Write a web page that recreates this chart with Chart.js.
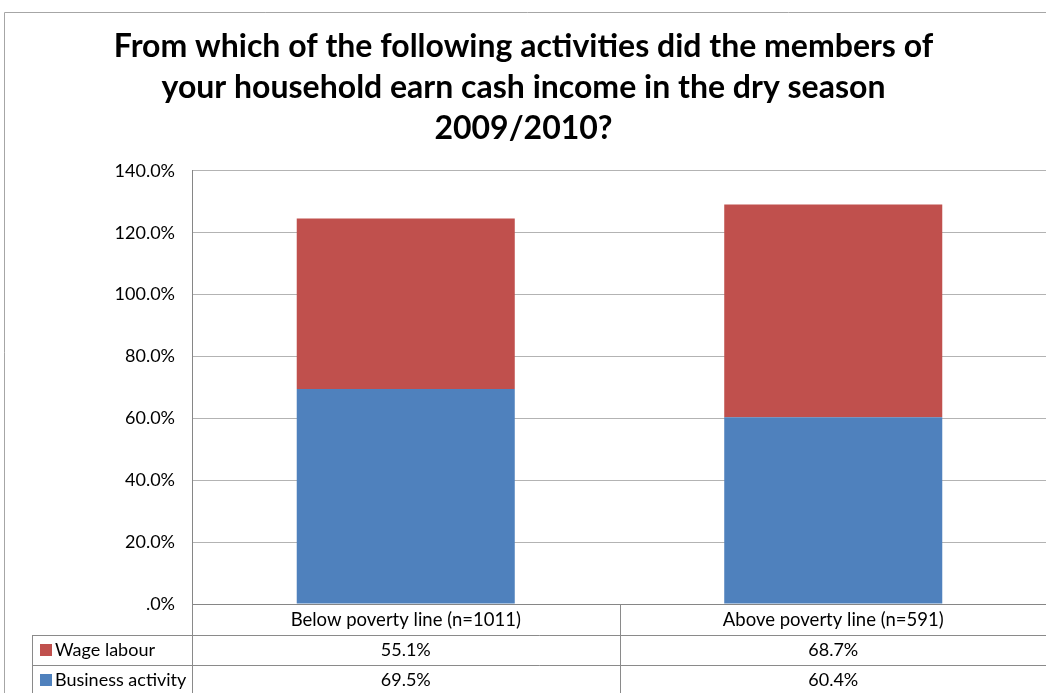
<!DOCTYPE html>
<html>
<head>
<meta charset="utf-8">
<script src="https://cdn.jsdelivr.net/npm/chart.js@4/dist/chart.umd.min.js"></script>
<style>
  html, body { margin: 0; padding: 0; background: #fff; overflow: hidden; }
  #wrap { width: 1050px; height: 693px; }
</style>
</head>
<body>
<div id="wrap"><canvas id="myChart" width="1050" height="693"></canvas></div>
<script>
// chart values
const categories = ['Below poverty line (n=1011)', 'Above poverty line (n=591)'];
const businessActivity = [69.5, 60.4];
const wageLabour = [55.1, 68.7];
const yTicks = [0, 20, 40, 60, 80, 100, 120, 140];
const titleLines = [
  'From which of the following activities did the members of',
  'your household earn cash income in the dry season',
  '2009/2010?'
];

const FONT = 'Lato, "Open Sans", sans-serif';
const pct = v => (v === 0 ? '.0%' : v.toFixed(1) + '%');

// thin frame round the whole chart
const chartFrame = {
  id: 'chartFrame',
  beforeDraw(chart) {
    const ctx = chart.ctx;
    ctx.save();
    ctx.strokeStyle = '#a6a6a6';
    ctx.lineWidth = 1;
    ctx.beginPath();
    ctx.moveTo(4.5, chart.height);
    ctx.lineTo(4.5, 12.5);
    ctx.lineTo(chart.width, 12.5);
    ctx.stroke();
    ctx.restore();
  }
};

// data table under the x axis (one row per series, with a colour key)
const dataTable = {
  id: 'dataTable',
  afterDraw(chart) {
    const { ctx, chartArea: a, scales: { x } } = chart;
    const headTop = a.bottom;
    const headH = 31;
    const rowH = 30;
    const keyLeft = 32.5;
    const half = (a.right - a.left) / categories.length / 2;
    // wage labour row sits on top, as in the stack
    const rows = chart.data.datasets.slice().reverse();

    ctx.save();
    ctx.strokeStyle = '#8a8a8a';
    ctx.lineWidth = 1;
    ctx.beginPath();
    // left edge of plot runs down through the table
    ctx.moveTo(Math.round(a.left) + 0.5, a.bottom);
    ctx.lineTo(Math.round(a.left) + 0.5, chart.height);
    // dividers between categories
    categories.forEach((c, i) => {
      const xr = Math.round(x.getPixelForValue(i) + half) + 0.5;
      ctx.moveTo(xr, headTop);
      ctx.lineTo(xr, chart.height);
    });
    // row lines
    rows.forEach((ds, r) => {
      const y = Math.round(headTop + headH + r * rowH) + 0.5;
      ctx.moveTo(keyLeft, y);
      ctx.lineTo(a.right, y);
    });
    ctx.moveTo(keyLeft, headTop + headH);
    ctx.lineTo(keyLeft, chart.height);
    ctx.stroke();

    ctx.font = '18px ' + FONT;
    ctx.textBaseline = 'middle';
    rows.forEach((ds, r) => {
      const yc = headTop + headH + r * rowH + rowH / 2;
      ctx.fillStyle = ds.backgroundColor;
      ctx.fillRect(40, yc - 6, 12, 12);
      ctx.fillStyle = '#000';
      ctx.textAlign = 'left';
      ctx.fillText(ds.label, 55, yc);
      ctx.textAlign = 'center';
      ds.data.forEach((v, i) => {
        ctx.fillText(pct(v), x.getPixelForValue(i), yc);
      });
    });
    ctx.restore();
  }
};

new Chart(document.getElementById('myChart'), {
  type: 'bar',
  data: {
    labels: categories,
    datasets: [
      {
        label: 'Business activity',
        data: businessActivity,
        backgroundColor: '#4F81BD'
      },
      {
        label: 'Wage labour',
        data: wageLabour,
        backgroundColor: '#C0504D'
      }
    ]
  },
  options: {
    responsive: false,
    animation: false,
    layout: { padding: { left: 0, right: 3, top: 0, bottom: 58 } },
    datasets: {
      bar: { categoryPercentage: 1, barPercentage: 0.51 }
    },
    scales: {
      x: {
        stacked: true,
        grid: { display: false, drawTicks: false },
        border: { color: '#868686' },
        ticks: { color: '#000', font: { family: FONT, size: 18.5 }, padding: 5 },
        afterFit(scale) { scale.height = 31; }
      },
      y: {
        stacked: true,
        min: yTicks[0],
        max: yTicks[yTicks.length - 1],
        afterBuildTicks(scale) { scale.ticks = yTicks.map(v => ({ value: v })); },
        grid: { color: '#b3b3b3', drawTicks: false },
        border: { color: '#868686' },
        ticks: {
          color: '#000',
          font: { family: FONT, size: 18 },
          padding: 17,
          callback: v => pct(v)
        },
        afterFit(scale) { scale.width = 192; }
      }
    },
    plugins: {
      legend: { display: false },
      tooltip: { enabled: false },
      title: {
        display: true,
        text: titleLines,
        color: '#000',
        font: { family: FONT, size: 32, weight: 'bold', lineHeight: 1.28 },
        padding: { top: 26, bottom: 22 }
      }
    }
  },
  plugins: [chartFrame, dataTable]
});
</script>
</body>
</html>
